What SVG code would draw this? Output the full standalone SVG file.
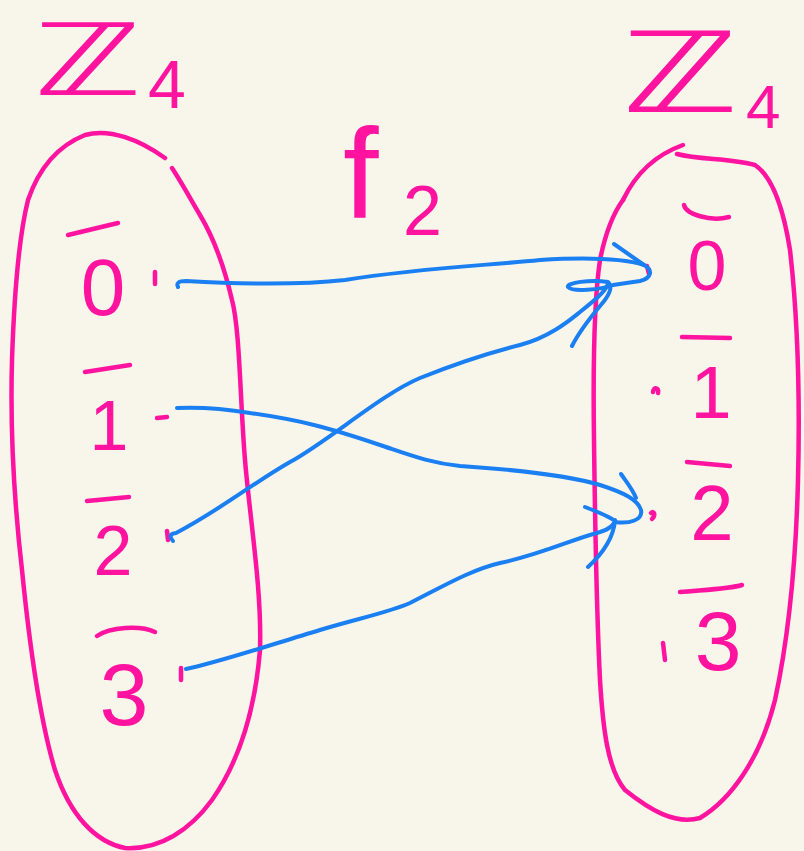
<svg xmlns="http://www.w3.org/2000/svg" width="804" height="851" viewBox="0 0 804 851">
<style>
.ink{fill:none;stroke:#ff139f;stroke-width:4.5;stroke-linecap:round;stroke-linejoin:round}
.lbl{fill:#ff139f;font-family:"Liberation Sans",Arial,sans-serif}
.zz{fill:#ff139f;font-family:"DejaVu Sans",sans-serif}
.arr{fill:none;stroke:#1a7ff2;stroke-width:4;stroke-linecap:round;stroke-linejoin:round}
</style>
<rect width="804" height="851" fill="#f8f5ea"/>

<g id="title-left">
<text class="zz" font-size="100" transform="translate(34,95) scale(1.45,1)">ℤ</text>
<text class="lbl" x="148" y="108" font-size="68">4</text>
</g>
<g id="title-right">
<text class="zz" font-size="112" transform="translate(622,112) scale(1.4,1)">ℤ</text>
<text class="lbl" x="746" y="128" font-size="62">4</text>
</g>
<g id="map-label">
<text class="lbl" x="343" y="218" font-size="128">f<tspan x="403" y="235" font-size="70">2</tspan></text>
</g>

<g id="set-left">
<path class="ink" d="M165,158 C140,140 110,128 85,135 C60,145 40,165 28,200 C18,240 14,300 12,360 C10,430 14,500 22,570 C30,650 40,720 55,770 C70,815 95,842 125,848 C160,850 190,830 212,800 C240,760 255,710 260,650 C262,590 250,520 245,460 C240,400 240,330 232,300 C225,270 215,240 200,215 C190,198 180,180 172,168"/>
<g id="l0"><path class="ink" d="M68,235 L118,223"/><text class="lbl" x="103" y="315" font-size="80" text-anchor="middle">0</text><path class="ink" d="M155,272 L155,284"/></g>
<g id="l1"><path class="ink" d="M85,372 L130,365"/><text class="lbl" x="109" y="450" font-size="70" text-anchor="middle">1</text><path class="ink" d="M157,418 L167,417"/></g>
<g id="l2"><path class="ink" d="M87,501 L129,497"/><text class="lbl" x="113" y="575" font-size="70" text-anchor="middle">2</text><path class="ink" d="M167,531 L168,540"/></g>
<g id="l3"><path class="ink" d="M97,636 C110,627 140,625 155,632"/><text class="lbl" x="124" y="725" font-size="88" text-anchor="middle">3</text><path class="ink" d="M181,668 L181,680"/></g>
</g>

<g id="set-right">
<path class="ink" d="M623,200 C635,175 655,155 683,145"/>
<path class="ink" d="M677,154 C700,160 730,158 755,165 C770,175 782,200 790,250 C798,320 800,400 798,480 C796,560 788,640 775,700 C760,760 730,800 700,818 C675,825 650,810 625,790 C608,770 603,730 600,680 C596,600 595,520 594,440 C593,370 594,300 600,260 C605,235 612,215 623,200"/>
<g id="r0"><path class="ink" d="M684,205 C686,214 710,222 729,217"/><text class="lbl" x="707" y="290" font-size="70" text-anchor="middle">0</text><path class="ink" d="M647,266 L649,274"/></g>
<g id="r1"><path class="ink" d="M682,337 L730,338"/><text class="lbl" x="711" y="418" font-size="74" text-anchor="middle">1</text><path class="ink" d="M653,392 C654,386 659,388 658,393"/></g>
<g id="r2"><path class="ink" d="M687,462 L730,466"/><text class="lbl" x="712" y="540" font-size="78" text-anchor="middle">2</text><path class="ink" d="M651,513 C654,510 656,515 652,519"/></g>
<g id="r3"><path class="ink" d="M680,592 C700,590 730,589 742,585"/><text class="lbl" x="718" y="670" font-size="84" text-anchor="middle">3</text><path class="ink" d="M663,643 L665,660"/></g>
</g>

<g id="connectors">
<path class="arr" d="M178,287 Q175,281 186,281 C240,284 300,285 345,280 C420,268 480,266 540,260 C590,257 625,259 644,265 C653,270 652,278 640,281 L613,285 C600,290 572,292 568,287 C566,283 590,279 608,282 C614,287 608,297 600,306 C590,318 580,330 572,346"/>
<path class="arr" d="M614,244 L644,265"/>
<path class="arr" d="M173,541 Q167,534 176,533 C220,510 250,485 290,462 C330,440 380,395 420,378 C470,358 500,350 520,345 C550,337 570,320 580,312 C595,300 605,292 608,284"/>
<path class="arr" d="M177,408 C200,407 220,408 250,413 C300,420 330,428 380,445 C410,455 430,463 460,466 C520,470 570,476 600,485 C625,493 638,500 641,510 C643,520 630,524 615,522"/>
<path class="arr" d="M621,474 C628,484 633,490 636,498"/>
<path class="arr" d="M186,669 C220,662 270,645 320,630 C360,618 390,612 410,603 C440,588 470,570 500,563 C540,555 570,540 600,532 C610,529 615,524 615,520"/>
<path class="arr" d="M585,507 C598,512 610,517 615,521 C613,540 600,556 588,567"/>
</g>
</svg>
